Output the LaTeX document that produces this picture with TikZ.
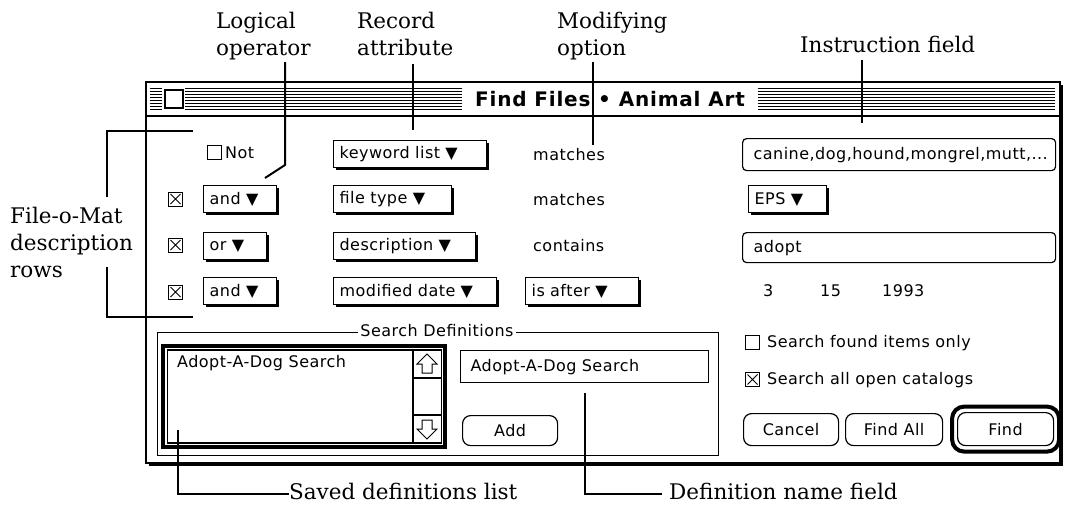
\documentclass[tikz,border=0pt]{standalone}
\usepackage{fontspec}
\setmainfont{DejaVu Serif}
\newfontfamily\uifont[LetterSpace=3]{DejaVu Sans}
\newfontfamily\ttlfont[LetterSpace=4]{DejaVu Sans}
\usetikzlibrary{shadows}
\newcommand\labfont{\rmfamily\fontsize{21.5}{27}\selectfont}
\newcommand\uif{\uifont\fontsize{16}{19}\selectfont}
\tikzset{
  lab/.style={font=\labfont, inner sep=0pt, align=left},
  leader/.style={line width=2pt},
  uitext/.style={font=\uif, inner sep=0pt, anchor=west},
  popup/.style={draw, line width=1.2pt, fill=white, anchor=north west,
    inner xsep=6pt, inner ysep=0pt, minimum height=27pt, align=left, font=\uif,
    drop shadow={shadow xshift=2.5pt, shadow yshift=-2.5pt, fill=black, opacity=1}},
  field/.style={draw, line width=1.2pt, rounded corners=4pt, anchor=north west,
    inner xsep=11pt, inner ysep=0pt, align=left, font=\uif},
  btn/.style={draw, line width=1.2pt, rounded corners=8pt, anchor=north west,
    minimum height=32pt, inner sep=0pt, font=\uif},
  cb/.style={draw, line width=1pt, fill=white, minimum size=14pt, inner sep=0pt},
  cbx/.style={cb, path picture={
    \draw[line width=0.9pt] ([shift={(2pt,-2pt)}]path picture bounding box.north west) -- ([shift={(-2pt,2pt)}]path picture bounding box.south east)
      ([shift={(-2pt,-2pt)}]path picture bounding box.north east) -- ([shift={(2pt,2pt)}]path picture bounding box.south west);}},
}
\begin{document}
\begin{tikzpicture}[x=1pt,y=-1pt]
\useasboundingbox (0,0) rectangle (1066,512);
\fill[white] (0,0) rectangle (1066,512);

% window
\fill[black] (149,85) rectangle (1063,466);
\draw[line width=1.5pt, fill=white] (146,82) rectangle (1060,463);
\draw[line width=1.2pt] (146,116) -- (1060,116);
\foreach \yy in {88,91,...,109} {
  \draw[line width=1pt] (150,\yy) -- (162,\yy);
  \draw[line width=1pt] (185,\yy) -- (462,\yy);
  \draw[line width=1pt] (758,\yy) -- (1055,\yy);
}
\node[draw, line width=1.2pt, fill=white, minimum size=18pt, inner sep=0pt] (closebox) at (174,99) {};
\node[font=\ttlfont\bfseries\fontsize{20}{24}\selectfont, inner sep=0pt] (title) at (610,99) {Find Files • Animal Art};

% row 0
\node[cb] (notcb) at (214.5,152) {};
\node[uitext] (nottext) at (225,153) {Not};
\node[popup, text width=141pt] (kw) at (333,140) {keyword list ▼};
\node[uitext] (m0) at (533,155) {matches};
\node[field, minimum width=313pt, minimum height=32pt, text width=291pt] (instr) at (742,138) {canine,dog,hound,mongrel,mutt,...};

% row 1
\node[cbx] (cb1) at (175.5,199) {};
\node[popup, text width=61pt] (op1) at (203,185) {and ▼};
\node[popup, text width=106pt] (at1) at (333,185) {file type ▼};
\node[uitext] (m1) at (533,200) {matches};
\node[popup, text width=66pt] (eps) at (748,185) {EPS ▼};

% row 2
\node[cbx] (cb2) at (175.5,245) {};
\node[popup, text width=51pt] (op2) at (203,232) {or ▼};
\node[popup, text width=130pt] (at2) at (333,232) {description ▼};
\node[uitext] (m2) at (533,246) {contains};
\node[field, minimum width=313pt, minimum height=30pt, text width=291pt] (adopt) at (742,232) {adopt};

% row 3
\node[cbx] (cb3) at (175.5,292) {};
\node[popup, text width=61pt] (op3) at (203,277) {and ▼};
\node[popup, text width=151pt] (at3) at (333,277) {modified date ▼};
\node[popup, text width=101pt] (mo3) at (525,277) {is after ▼};
\node[uitext] (d1) at (763,291) {3};
\node[uitext] (d2) at (820,291) {15};
\node[uitext] (d3) at (882,291) {1993};

% search definitions group
\draw[line width=1pt] (157,332) rectangle (718,455);
\node[fill=white, inner xsep=2pt, inner ysep=0pt, font=\uif] (sdlabel) at (437,331) {Search Definitions};
\draw[line width=4pt] (163,346) rectangle (445,447);
\draw[line width=1.5pt] (167.5,350) rectangle (441.5,443);
\draw[line width=1.2pt] (413,350) -- (413,443) (413,378) -- (441.5,378) (413,415) -- (441.5,415);
\draw[line width=1pt, line join=miter] (427,354) -- (437,364) -- (432,364) -- (432,373) -- (422,373) -- (422,364) -- (417,364) -- cycle;
\draw[line width=1pt, line join=miter] (427,439) -- (437,429) -- (432,429) -- (432,420) -- (422,420) -- (422,429) -- (417,429) -- cycle;
\node[uitext] (listitem) at (177,363) {Adopt-A-Dog Search};
\node[field, rounded corners=0pt, minimum width=248pt, minimum height=32pt, text width=228pt, inner xsep=10pt] (namefield) at (460,350) {Adopt-A-Dog Search};
\node[btn, minimum width=95pt, minimum height=30pt] (add) at (462,415) {Add};

% right side
\node[cb] (sfcb) at (752.5,342.5) {};
\node[uitext] (sftext) at (767,343) {Search found items only};
\node[cbx] (sacb) at (752.5,379.5) {};
\node[uitext] (satext) at (767,380) {Search all open catalogs};
\node[btn, minimum width=95pt] (cancel) at (743,413) {Cancel};
\node[btn, minimum width=97pt] (findall) at (845,413) {Find All};
\node[btn, minimum width=96pt, minimum height=33pt] (find) at (957,412) {Find};
\node[draw, line width=4pt, rounded corners=12pt, minimum width=107pt, minimum height=45pt, inner sep=0pt] (findring) at (find.center) {};

% labels
\node[lab, anchor=north west] (logical) at (216,11.7) {Logical\\operator};
\node[lab, anchor=north west] (record) at (357,11.7) {Record\\attribute};
\node[lab, anchor=north west] (modif) at (557,11.7) {Modifying\\option};
\node[lab, anchor=north west] (instrlab) at (800,35.7) {Instruction field};
\node[lab, anchor=north west] (rowslab) at (10,206.7) {File-o-Mat\\description\\rows};
\node[lab, anchor=base west] (savedlab) at (289,499) {Saved definitions list};
\node[lab, anchor=base west] (deflab) at (669,499) {Definition name field};

% leaders
\coordinate (lo-a) at (285,62); \coordinate (lo-b) at (285,165); \coordinate (lo-c) at (265,178);
\draw[leader] (lo-a) -- (lo-b) -- (lo-c);
\coordinate (ra-a) at (413,64); \coordinate (ra-b) at (413,130);
\draw[leader] (ra-a) -- (ra-b);
\coordinate (mo-a) at (593,62); \coordinate (mo-b) at (593,145);
\draw[leader] (mo-a) -- (mo-b);
\coordinate (in-a) at (862,60); \coordinate (in-b) at (862,123);
\draw[leader] (in-a) -- (in-b);
\coordinate (br-a) at (193,131); \coordinate (br-b) at (107,131); \coordinate (br-c) at (107,197);
\draw[leader] (br-a) -- (br-b) -- (br-c);
\coordinate (br-d) at (107,267); \coordinate (br-e) at (107,317); \coordinate (br-f) at (193,317);
\draw[leader] (br-d) -- (br-e) -- (br-f);
\coordinate (sv-a) at (178,430); \coordinate (sv-b) at (178,494);
\draw[leader] (sv-a) -- (sv-b) -- (savedlab.west |- sv-b) ++(-6,0);
\coordinate (dn-a) at (585,393); \coordinate (dn-b) at (585,494);
\draw[leader] (dn-a) -- (dn-b) -- ([xshift=-7pt]deflab.west |- dn-b);
\end{tikzpicture}
\end{document}
